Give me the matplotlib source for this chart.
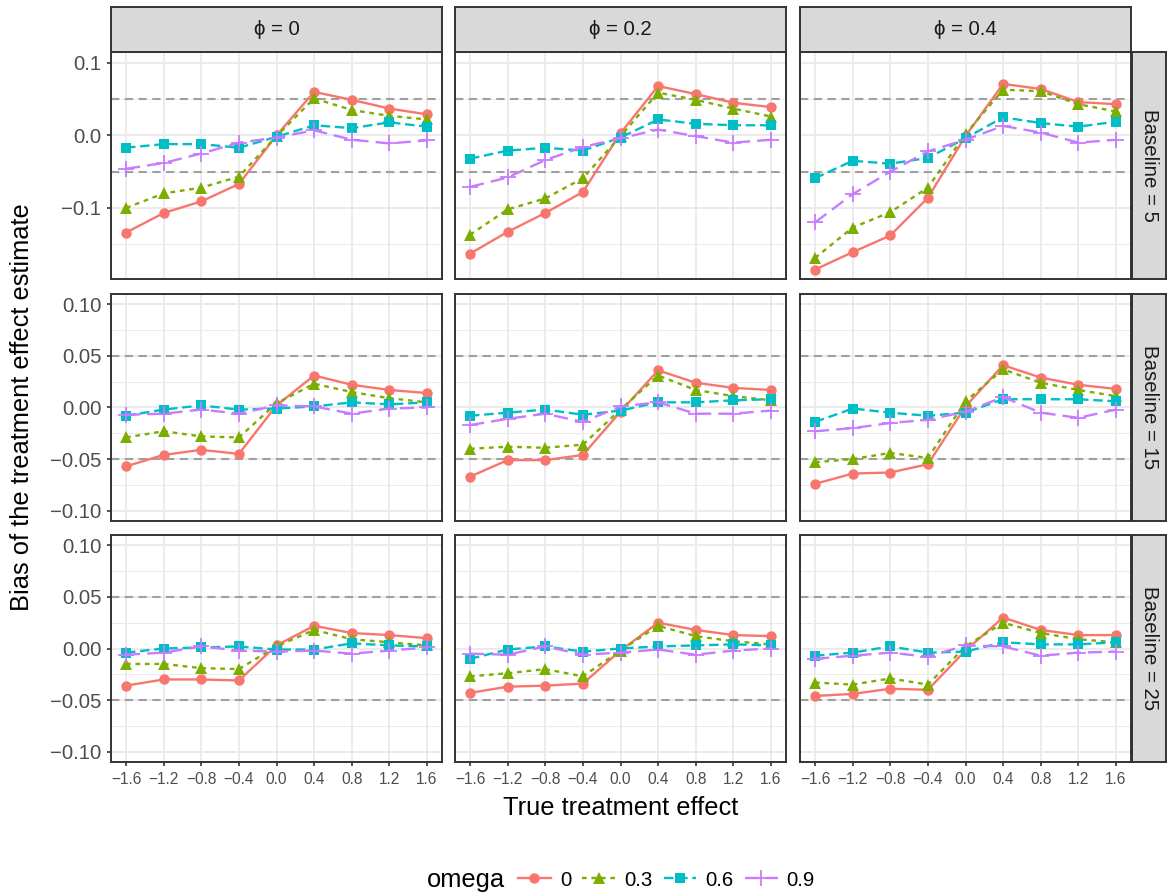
import matplotlib
matplotlib.use("Agg")
import matplotlib.pyplot as plt
from matplotlib.lines import Line2D

plt.rcParams['font.family'] = ['Liberation Sans', 'DejaVu Sans']

# x values and series info
effect = [-1.6, -1.2, -0.8, -0.4, 0.0, 0.4, 0.8, 1.2, 1.6]
omega = ['0', '0.3', '0.6', '0.9']
phi_labels = ['ϕ = 0', 'ϕ = 0.2', 'ϕ = 0.4']
baseline_labels = ['Baseline = 5', 'Baseline = 15', 'Baseline = 25']

# bias values, one list per omega (0, 0.3, 0.6, 0.9)
b5_phi0 = [
    [-0.134, -0.107, -0.091, -0.067, 0.000, 0.060, 0.049, 0.037, 0.029],
    [-0.100, -0.080, -0.072, -0.057, -0.001, 0.051, 0.035, 0.027, 0.022],
    [-0.017, -0.012, -0.012, -0.017, -0.002, 0.014, 0.010, 0.018, 0.012],
    [-0.046, -0.038, -0.025, -0.010, -0.003, 0.007, -0.006, -0.011, -0.007],
]
b5_phi02 = [
    [-0.163, -0.133, -0.107, -0.078, 0.003, 0.068, 0.057, 0.045, 0.039],
    [-0.137, -0.102, -0.087, -0.059, -0.001, 0.059, 0.049, 0.037, 0.026],
    [-0.032, -0.021, -0.017, -0.021, -0.003, 0.022, 0.016, 0.014, 0.014],
    [-0.071, -0.058, -0.034, -0.016, -0.004, 0.008, -0.001, -0.010, -0.006],
]
b5_phi04 = [
    [-0.185, -0.161, -0.138, -0.086, -0.001, 0.071, 0.064, 0.046, 0.043],
    [-0.169, -0.127, -0.106, -0.072, 0.002, 0.063, 0.061, 0.043, 0.033],
    [-0.059, -0.035, -0.039, -0.031, -0.004, 0.025, 0.017, 0.012, 0.019],
    [-0.120, -0.081, -0.050, -0.022, -0.006, 0.013, 0.004, -0.010, -0.006],
]
b15_phi0 = [
    [-0.057, -0.046, -0.041, -0.045, 0.002, 0.031, 0.022, 0.017, 0.014],
    [-0.029, -0.023, -0.028, -0.029, 0.004, 0.023, 0.015, 0.009, 0.005],
    [-0.008, -0.002, 0.002, -0.002, -0.001, 0.001, 0.005, 0.003, 0.005],
    [-0.007, -0.006, -0.002, -0.006, 0.002, 0.001, -0.006, -0.001, 0.000],
]
b15_phi02 = [
    [-0.067, -0.051, -0.051, -0.046, -0.004, 0.036, 0.024, 0.019, 0.017],
    [-0.040, -0.038, -0.039, -0.036, -0.002, 0.031, 0.017, 0.011, 0.007],
    [-0.008, -0.005, -0.002, -0.007, -0.003, 0.005, 0.005, 0.007, 0.008],
    [-0.017, -0.011, -0.006, -0.014, 0.001, 0.005, -0.006, -0.006, -0.003],
]
b15_phi04 = [
    [-0.074, -0.064, -0.063, -0.055, 0.001, 0.041, 0.029, 0.022, 0.018],
    [-0.053, -0.050, -0.044, -0.049, 0.006, 0.037, 0.024, 0.017, 0.011],
    [-0.014, -0.001, -0.005, -0.008, -0.005, 0.008, 0.008, 0.008, 0.006],
    [-0.023, -0.020, -0.015, -0.012, -0.004, 0.010, -0.005, -0.010, -0.002],
]
b25_phi0 = [
    [-0.036, -0.030, -0.030, -0.031, 0.003, 0.022, 0.015, 0.013, 0.010],
    [-0.015, -0.015, -0.019, -0.020, 0.002, 0.018, 0.009, 0.006, 0.003],
    [-0.004, 0.000, 0.001, 0.002, -0.001, -0.001, 0.005, 0.003, 0.002],
    [-0.006, -0.004, 0.002, -0.002, -0.003, -0.002, -0.005, -0.002, 0.001],
]
b25_phi02 = [
    [-0.043, -0.037, -0.036, -0.034, -0.002, 0.025, 0.018, 0.013, 0.012],
    [-0.027, -0.024, -0.020, -0.027, -0.002, 0.022, 0.012, 0.007, 0.004],
    [-0.010, -0.001, 0.002, -0.003, 0.000, 0.002, 0.003, 0.004, 0.003],
    [-0.005, -0.006, 0.002, -0.006, -0.004, -0.001, -0.006, -0.002, 0.000],
]
b25_phi04 = [
    [-0.046, -0.044, -0.039, -0.040, -0.002, 0.030, 0.018, 0.013, 0.013],
    [-0.033, -0.035, -0.029, -0.035, 0.002, 0.025, 0.015, 0.009, 0.006],
    [-0.007, -0.004, 0.002, -0.004, -0.003, 0.006, 0.004, 0.004, 0.006],
    [-0.010, -0.007, -0.004, -0.008, 0.003, 0.002, -0.007, -0.004, -0.003],
]

panels = [[b5_phi0, b5_phi02, b5_phi04],
          [b15_phi0, b15_phi02, b15_phi04],
          [b25_phi0, b25_phi02, b25_phi04]]

colors = ['#F8766D', '#7CAE00', '#00BFC4', '#C77CFF']
markers = ['o', '^', 's', '+']
msizes = [7.5, 8.5, 7.5, 12]
dashes = [None, (2, 2), (4, 2), (6, 3)]
LW = 1.7

W, H = 1167, 896
fig = plt.figure(figsize=(W / 100, H / 100), dpi=100)

col_left = [111, 455, 800]
row_top = [52, 294, 535]
pw, ph = 331, 227

ylims = [(-0.198, 0.115), (-0.11, 0.11), (-0.11, 0.11)]
yticks = [[-0.1, 0.0, 0.1], [-0.10, -0.05, 0.0, 0.05, 0.10], [-0.10, -0.05, 0.0, 0.05, 0.10]]
yticklabels = [['−0.1', '0.0', '0.1'],
               ['−0.10', '−0.05', '0.00', '0.05', '0.10'],
               ['−0.10', '−0.05', '0.00', '0.05', '0.10']]
yminor = [[-0.15, -0.05, 0.05], [-0.075, -0.025, 0.025, 0.075], [-0.075, -0.025, 0.025, 0.075]]
xticklabels = ['−1.6', '−1.2', '−0.8', '−0.4', '0.0', '0.4', '0.8', '1.2', '1.6']

border = '#333333'

def fx(px):
    return px / W

def fy(py):
    return 1 - py / H

for r in range(3):
    for c in range(3):
        ax = fig.add_axes([fx(col_left[c]), fy(row_top[r] + ph), pw / W, ph / H])
        ax.set_xlim(-1.76, 1.76)
        ax.set_ylim(*ylims[r])
        # grid
        for yv in yminor[r]:
            ax.axhline(yv, color='#EBEBEB', lw=0.7, zorder=0)
        for yv in yticks[r]:
            ax.axhline(yv, color='#EBEBEB', lw=1.4, zorder=0)
        for xv in effect:
            ax.axvline(xv, color='#EBEBEB', lw=1.4, zorder=0)
        # reference lines
        for yv in (-0.05, 0.05):
            ax.axhline(yv, color='#A0A0A0', lw=1.5, dashes=(4, 2.6), zorder=1)
        data = panels[r][c]
        for i in range(4):
            ln, = ax.plot(effect, data[i], color=colors[i], lw=LW,
                          marker=markers[i], ms=msizes[i], mew=1.3 if i == 3 else 0,
                          zorder=3 + i)
            if dashes[i] is not None:
                ln.set_dashes(dashes[i])
        ax.set_xticks(effect)
        ax.set_yticks(yticks[r])
        for s in ax.spines.values():
            s.set_color(border)
            s.set_linewidth(1.4)
        ax.tick_params(color=border, width=1.2, length=3)
        if c == 0:
            ax.set_yticklabels(yticklabels[r], fontsize=14.7, color='#4D4D4D')
        else:
            ax.set_yticklabels([])
            ax.tick_params(axis='y', length=0)
        if r == 2:
            ax.set_xticklabels(xticklabels, fontsize=11.2, color='#4D4D4D')
        else:
            ax.set_xticklabels([])
            ax.tick_params(axis='x', length=0)
        ax.tick_params(axis='y', pad=4)
        ax.tick_params(axis='x', pad=4)

# top strips
for c in range(3):
    sax = fig.add_axes([fx(col_left[c]), fy(52), pw / W, 45 / H])
    sax.set_facecolor('#D9D9D9')
    sax.set_xticks([])
    sax.set_yticks([])
    for s in sax.spines.values():
        s.set_color(border)
        s.set_linewidth(1.4)
    sax.text(0.5, 0.5, phi_labels[c], ha='center', va='center', fontsize=14.7,
             color='#1A1A1A', transform=sax.transAxes)

# right strips
for r in range(3):
    sax = fig.add_axes([fx(1132), fy(row_top[r] + ph), 34 / W, ph / H])
    sax.set_facecolor('#D9D9D9')
    sax.set_xticks([])
    sax.set_yticks([])
    for s in sax.spines.values():
        s.set_color(border)
        s.set_linewidth(1.4)
    sax.text(0.5, 0.5, baseline_labels[r], ha='center', va='center', fontsize=14.7,
             rotation=-90, color='#1A1A1A', transform=sax.transAxes)

fig.text(fx(22), fy(407), 'Bias of the treatment effect estimate', rotation=90,
         ha='center', va='center', fontsize=18.4)
fig.text(fx(621), fy(808), 'True treatment effect', ha='center', va='center', fontsize=18.4)

# legend
handles = []
for i in range(4):
    h = Line2D([], [], color=colors[i], lw=LW, marker=markers[i], ms=msizes[i],
               mew=1.3 if i == 3 else 0)
    if dashes[i] is not None:
        h.set_dashes(dashes[i])
    handles.append(h)
fig.text(fx(427), fy(880), 'omega', ha='left', va='center', fontsize=18.4)
fig.legend(handles, omega, loc='center left', bbox_to_anchor=(fx(518), fy(880)),
           ncol=4, frameon=False, fontsize=14.7, handlelength=1.6, handletextpad=0.45,
           columnspacing=0.55, numpoints=1, borderaxespad=0, borderpad=0)

fig.savefig('out.png', dpi=100)
